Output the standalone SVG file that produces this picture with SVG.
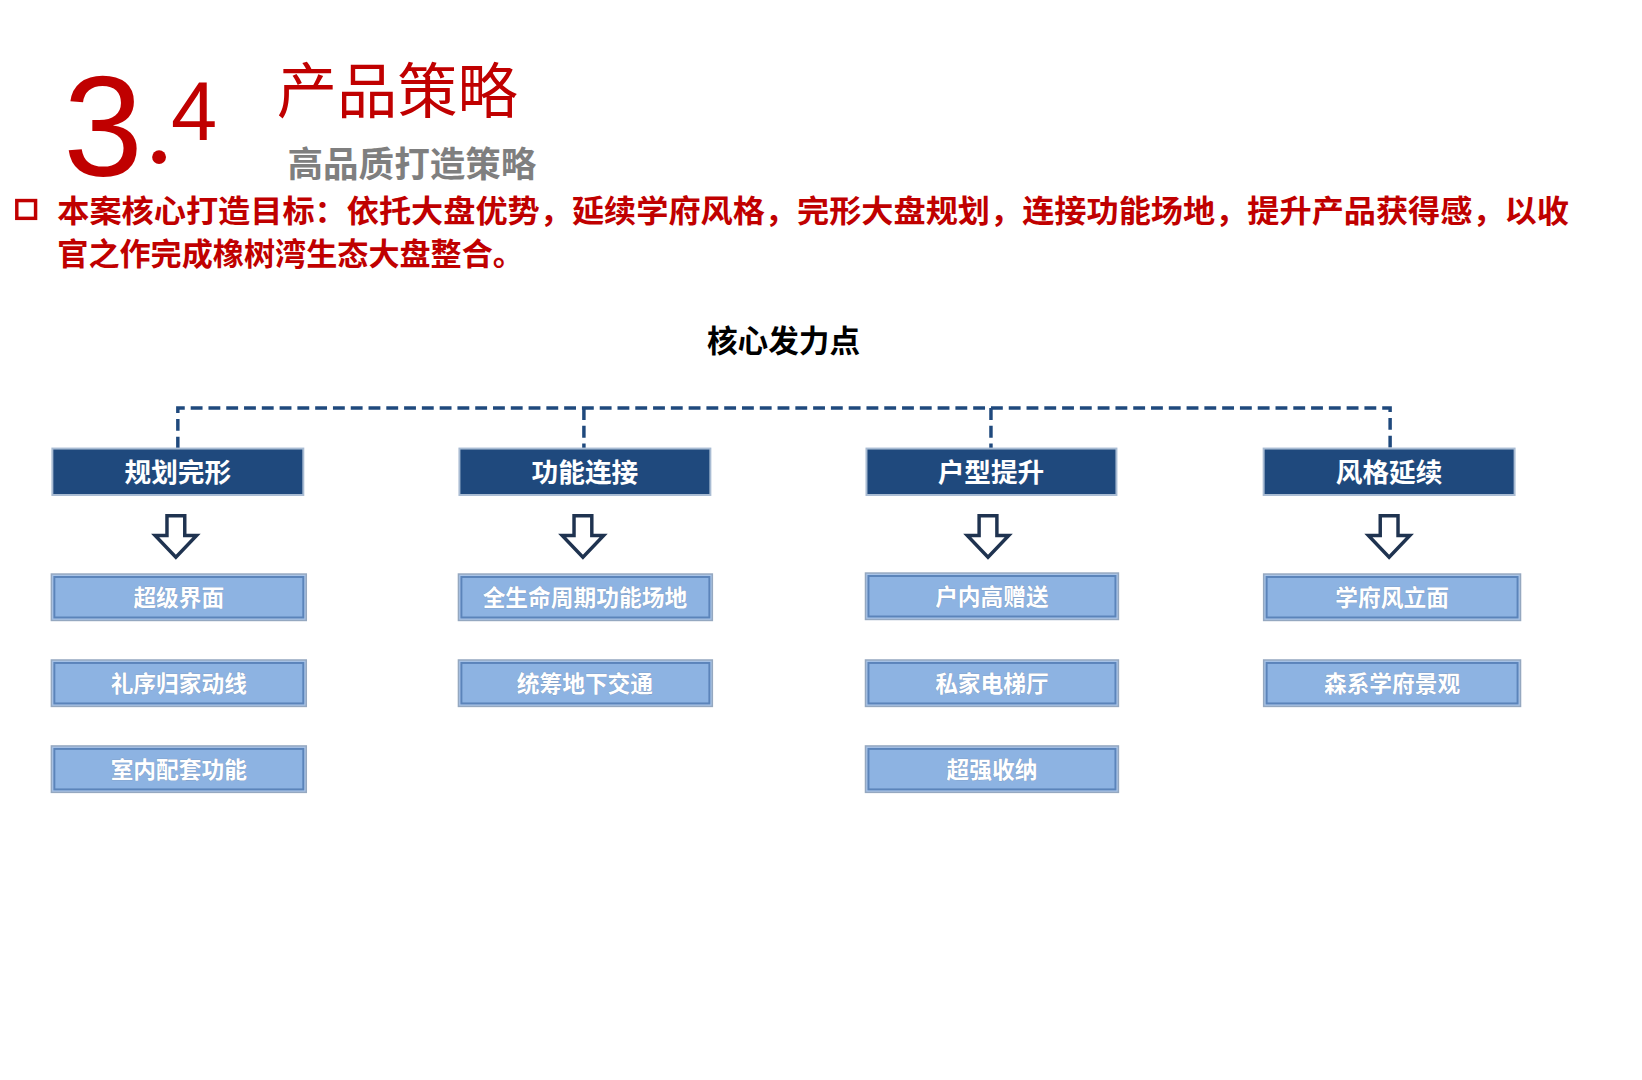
<svg xmlns="http://www.w3.org/2000/svg" width="1642" height="1080" viewBox="0 0 1642 1080">
<style>
.cjk{font-family:"Noto Sans CJK SC","Liberation Sans",sans-serif}
.hd rect{fill:#1F497D;stroke:#A9BCD3;stroke-width:2}
.hd text{fill:#fff;font-size:27px;font-weight:bold;text-anchor:middle}
.sb .o{fill:#A9C4E8;stroke:#95A8C0;stroke-width:1.5}
.sb .i{fill:#8DB3E2;stroke:#5B84BA;stroke-width:2}
.sb text{fill:#fff;font-size:23px;font-weight:bold;text-anchor:middle;stroke:#7C97BC;stroke-width:0.6;paint-order:stroke}
.ar{fill:#fff;stroke:#1F3350;stroke-width:3.5;stroke-linejoin:miter}
.cn{fill:none;stroke:#1F497D;stroke-width:3.5;stroke-dasharray:12 6}
</style>
<rect width="1642" height="1080" fill="#fff"/>
<g transform="scale(0.988)">
<g id="title">
<text x="64" y="178" font-family="Liberation Sans,sans-serif" font-size="145" fill="#C00000">3</text>
<circle cx="161" cy="159" r="7" fill="#C00000"/>
<text x="173" y="142" font-family="Liberation Sans,sans-serif" font-size="84" fill="#C00000">4</text>
<text x="280" y="114" class="cjk" font-size="61" fill="#C00000">产品策略</text>
<text x="291" y="179" class="cjk" font-size="36" font-weight="bold" fill="#7F7F7F">高品质打造策略</text>
<rect x="17" y="203" width="19" height="18" fill="none" stroke="#C00000" stroke-width="3.5"/>
<text x="58" y="225" class="cjk" font-size="31.5" font-weight="bold" fill="#C00000" textLength="1530" lengthAdjust="spacingAndGlyphs">本案核心打造目标：依托大盘优势，延续学府风格，完形大盘规划，连接功能场地，提升产品获得感，以收</text>
<text x="58" y="268" class="cjk" font-size="31.5" font-weight="bold" fill="#C00000">官之作完成橡树湾生态大盘整合。</text>
<text x="793" y="356" class="cjk" font-size="31" font-weight="bold" fill="#000" text-anchor="middle">核心发力点</text>
</g>
<g id="connectors">
<path class="cn" d="M180 454V413H1407V454M591 413V454M1003 413V454"/>
</g>
<g id="h1" class="hd cjk"><rect x="53" y="454" width="254" height="47"/><text x="180" y="488">规划完形</text></g>
<g id="h2" class="hd cjk"><rect x="465" y="454" width="254" height="47"/><text x="592" y="488">功能连接</text></g>
<g id="h3" class="hd cjk"><rect x="877" y="454" width="253" height="47"/><text x="1003" y="488">户型提升</text></g>
<g id="h4" class="hd cjk"><rect x="1279" y="454" width="254" height="47"/><text x="1406" y="488">风格延续</text></g>
<g id="arrows">
<path class="ar" d="M169 522h18v20h12l-21 22l-21-22h12z"/>
<path class="ar" d="M581 522h18v20h12l-21 22l-21-22h12z"/>
<path class="ar" d="M991 522h18v20h12l-21 22l-21-22h12z"/>
<path class="ar" d="M1397 522h18v20h12l-21 22l-21-22h12z"/>
</g>
<g id="s11" class="sb cjk"><rect class="o" x="52" y="581" width="258" height="47"/><rect class="i" x="55" y="584" width="252" height="41"/><text x="181" y="613">超级界面</text></g>
<g id="s12" class="sb cjk"><rect class="o" x="52" y="668" width="258" height="47"/><rect class="i" x="55" y="671" width="252" height="41"/><text x="181" y="700">礼序归家动线</text></g>
<g id="s13" class="sb cjk"><rect class="o" x="52" y="755" width="258" height="47"/><rect class="i" x="55" y="758" width="252" height="41"/><text x="181" y="787">室内配套功能</text></g>
<g id="s21" class="sb cjk"><rect class="o" x="464" y="581" width="257" height="47"/><rect class="i" x="467" y="584" width="251" height="41"/><text x="592" y="613">全生命周期功能场地</text></g>
<g id="s22" class="sb cjk"><rect class="o" x="464" y="668" width="257" height="47"/><rect class="i" x="467" y="671" width="251" height="41"/><text x="592" y="700">统筹地下交通</text></g>
<g id="s31" class="sb cjk"><rect class="o" x="876" y="580" width="256" height="47"/><rect class="i" x="879" y="583" width="250" height="41"/><text x="1004" y="612">户内高赠送</text></g>
<g id="s32" class="sb cjk"><rect class="o" x="876" y="668" width="256" height="47"/><rect class="i" x="879" y="671" width="250" height="41"/><text x="1004" y="700">私家电梯厅</text></g>
<g id="s33" class="sb cjk"><rect class="o" x="876" y="755" width="256" height="47"/><rect class="i" x="879" y="758" width="250" height="41"/><text x="1004" y="787">超强收纳</text></g>
<g id="s41" class="sb cjk"><rect class="o" x="1279" y="581" width="260" height="47"/><rect class="i" x="1282" y="584" width="254" height="41"/><text x="1409" y="613">学府风立面</text></g>
<g id="s42" class="sb cjk"><rect class="o" x="1279" y="668" width="260" height="47"/><rect class="i" x="1282" y="671" width="254" height="41"/><text x="1409" y="700">森系学府景观</text></g>
</g>
</svg>
